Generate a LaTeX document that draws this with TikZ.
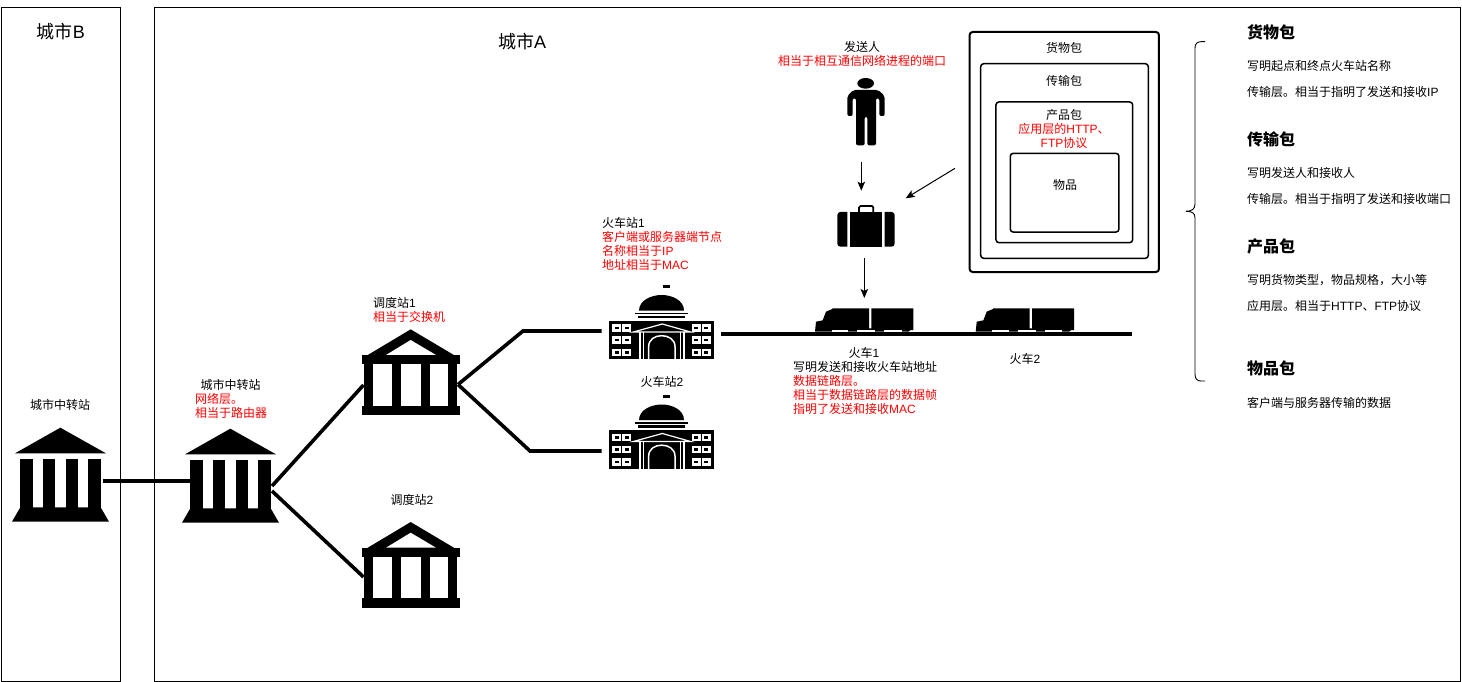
\documentclass[tikz,border=0pt]{standalone}
\usepackage{fontspec}
\setmainfont{Noto Sans CJK SC}
\newfontfamily\latfont{Liberation Sans}
\newcommand{\lat}[1]{{\latfont #1}}
\usetikzlibrary{arrows.meta}
\definecolor{redtxt}{RGB}{255,0,0}
\tikzset{
  txt/.style={inner sep=0pt,font=\fontsize{12}{14}\selectfont,text=black},
  lt/.style={txt,anchor=west,align=left},
  ct/.style={txt,anchor=center,align=center},
  title/.style={inner sep=0pt,font=\fontsize{18}{20}\selectfont,anchor=center},
  head/.style={inner sep=0pt,font=\fontsize{16}{18}\selectfont\bfseries,anchor=west},
  citybox/.style={draw=black,line width=1pt},
  pack/.style={draw=black,rounded corners=3pt},
  link/.style={line width=3.6pt,draw=black},
  arrowline/.style={draw=black,line width=1pt,-{Stealth[length=9pt,width=7.5pt,inset=2pt]}},
  zoomc/.style={x=0.33333pt,y=-0.33333pt},
  bank/.pic={\begin{scope}[zoomc]
    \fill (181,173)--(318,250)--(45,250)--cycle;
    \fill (61,268) rectangle (98,420);
    \fill (129,268) rectangle (166,420);
    \fill (197,268) rectangle (234,420);
    \fill (265,268) rectangle (302,420);
    \fill (61,412)--(302,412)--(327,455)--(36,455)--cycle;
  \end{scope}},
  temple/.pic={\begin{scope}[zoomc]
    \fill (212,118)--(345,197)--(80,197)--cycle;
    \fill[white] (212,150)--(288,195)--(138,195)--cycle;
    \fill (65,195) rectangle (360,222);
    \fill (73,222) rectangle (352,347);
    \fill[white] (100,222) rectangle (157,347);
    \fill[white] (184,222) rectangle (242,347);
    \fill[white] (269,222) rectangle (325,347);
    \fill (65,347) rectangle (360,375);
  \end{scope}},
  station/.pic={\begin{scope}[zoomc]
    \fill (250,255) rectangle (270,265);
    \fill (177,332) .. controls (177,300) and (215,285) .. (245,285) .. controls (275,285) and (312,300) .. (312,332) -- cycle;
    \fill (165,338) rectangle (325,343);
    \fill (175,347) rectangle (315,355);
    \fill (88,362) rectangle (402,478);
    \foreach \wx in {97,127,335,365}{\foreach \wy in {373,409,446}{
      \fill[white] (\wx,\wy) rectangle ++(27,22);
      \fill[black] (\wx+8,\wy+7) rectangle ++(11,8);}}
    \draw[white,line width=1.2pt] (160,396)--(247,372)--(332,396)--cycle;
    \foreach \cx in {180,191,301,312}{\draw[white,line width=1.1pt] (\cx,397)--(\cx,478);}
    \draw[white,line width=1.5pt] (206,478)--(206,440) .. controls (206,418) and (225,407) .. (245,407) .. controls (265,407) and (285,418) .. (285,440) -- (285,478);
  \end{scope}},
  truck/.pic={\begin{scope}[zoomc]
    \fill (45,110)--(48,80)--(68,76)--(78,50)--(97,42)--(97,40)--(207,40)--(207,100)--(214,100)--(214,40)--(340,40)--(340,105)--(332,105)--(325,110)--cycle;
    \fill[white] (95,104) rectangle (145,110);
    \fill[white] (172,104) rectangle (226,110);
    \fill[white] (253,104) rectangle (305,110);
  \end{scope}},
  person/.pic={\begin{scope}[zoomc]
    \fill (317,190) ellipse [x radius=25,y radius=16];
    \fill[rounded corners=2pt] (280,210)--(355,210)--(374,228)--(374,288)--(358,288)--(358,235)--(348,235)--(348,376)--(322,376)--(322,290)--(314,290)--(314,376)--(288,376)--(288,235)--(278,235)--(278,288)--(262,288)--(262,228)--cycle;
  \end{scope}},
  suitcase/.pic={\begin{scope}[zoomc]
    \fill (262,576) [rounded corners=3pt] -- (232,576) -- (232,680) [sharp corners] -- (262,680) -- cycle;
    \fill (270,576) rectangle (366,680);
    \fill (374,576) [rounded corners=3pt] -- (404,576) -- (404,680) [sharp corners] -- (374,680) -- cycle;
    \draw[line width=1.7pt,rounded corners=1.5pt] (297,578)--(297,558)--(340,558)--(340,578);
  \end{scope}},
}
\newcommand{\rd}[1]{{\color{redtxt}#1}}
\begin{document}
\begin{tikzpicture}[x=1pt,y=-1pt]
\useasboundingbox (0,0) rectangle (1462,682);
\fill[white] (0,0) rectangle (1462,682);
% city frames
\node[citybox,minimum width=119.5pt,minimum height=673.5pt,inner sep=0pt] (cityB) at (60.75,344.75) {};
\node[citybox,minimum width=1306pt,minimum height=673.5pt,inner sep=0pt] (cityA) at (807.5,344.75) {};
\node[title] (tB) at (61,32) {城市\lat{B}};
\node[title] (tA) at (522,42) {城市\lat{A}};
% packages
\node[pack,line width=2pt,minimum width=189.3pt,minimum height=240pt,inner sep=0pt] (p1) at (1064.3,152) {};
\node[pack,line width=1.5pt,minimum width=167.6pt,minimum height=194.6pt,inner sep=0pt] (p2) at (1064.5,161) {};
\node[pack,line width=1.5pt,minimum width=136.7pt,minimum height=140.7pt,inner sep=0pt] (p3) at (1064.3,172.3) {};
\node[pack,line width=1.5pt,minimum width=108.7pt,minimum height=78.7pt,inner sep=0pt] (p4) at (1064.6,192.7) {};
\node[ct] (p1t) at (1064,48) {货物包};
\node[ct] (p2t) at (1064,81) {传输包};
\node[ct] (p3t) at (1064,129) {产品包\\\rd{应用层的\lat{HTTP}、}\\\rd{\lat{FTP}协议}};
\node[ct] (p4t) at (1065,185) {物品};
% icons
\pic at (0,370) {bank};
\pic at (170,371) {bank};
\pic at (340,290) {temple};
\pic at (340,482.7) {temple};
\pic at (580,200) {station};
\pic at (580,309.5) {station};
\pic at (800,295) {truck};
\pic at (960.7,295) {truck};
\pic at (760,20) {person};
\pic at (760,20) {suitcase};
% anchors of connectors
\coordinate (bankB) at (103,481.3);
\coordinate (bankA) at (190,481.3);
\coordinate (bankAu) at (272,486);
\coordinate (bankAd) at (272,491);
\coordinate (disp1w) at (363.5,385);
\coordinate (disp2w) at (363.5,577);
\coordinate (disp1e) at (458,384.5);
\coordinate (bendU) at (523,331);
\coordinate (bendD) at (530,451);
\coordinate (st1) at (601.7,331);
\coordinate (st2) at (601.7,451);
\coordinate (railS) at (721.3,334.3);
\coordinate (railE) at (1132,334.3);
\coordinate (personB) at (861.3,161.7);
\coordinate (caseT) at (861.3,190.7);
\coordinate (packL) at (955,168.3);
\coordinate (caseR) at (905.7,198.3);
\coordinate (caseB) at (864.3,258.3);
\coordinate (truckT) at (864.3,298);
\draw[link,line width=4pt] (bankB)--(bankA);
\draw[link] (bankAu)--(disp1w);
\draw[link] (bankAd)--(disp2w);
\draw[link] (disp1e)--(bendU)--(st1);
\draw[link] (disp1e)--(bendD)--(st2);
\draw[link,line width=4pt] (railS)--(railE);
\draw[arrowline] (personB)--(caseT);
\draw[arrowline] (packL)--(caseR);
\draw[arrowline] (caseB)--(truckT);
% labels
\node[ct] (l1) at (60,405) {城市中转站};
\node[lt] (l2) at (195,398.5) {\hspace*{5.5pt}城市中转站\\\rd{网络层。}\\\rd{相当于路由器}};
\node[lt] (l3) at (373,310) {调度站\lat{1}\\\rd{相当于交换机}};
\node[ct] (l4) at (412,500) {调度站\lat{2}};
\node[lt] (l5) at (602,243.5) {火车站\lat{1}\\\rd{客户端或服务器端节点}\\\rd{名称相当于\lat{IP}}\\\rd{地址相当于\lat{MAC}}};
\node[ct] (l6) at (662,382) {火车站\lat{2}};
\node[ct] (l7) at (862,54) {发送人\\\rd{相当于相互通信网络进程的端口}};
\node[ct] (l8) at (864,353) {火车\lat{1}};
\node[lt] (l9) at (793,388) {写明发送和接收火车站地址\\\rd{数据链路层。}\\\rd{相当于数据链路层的数据帧}\\\rd{指明了发送和接收\lat{MAC}}};
\node[ct] (l10) at (1025,359) {火车\lat{2}};
% brace
\coordinate (brT) at (1205,41.7);
\coordinate (brM) at (1186,211.3);
\coordinate (brB) at (1205,381);
\draw[black,line width=.9pt] (brT) -- (1201,41.7) .. controls (1197,41.7) and (1195,44) .. (1195,48) -- (1195,204) .. controls (1195,209) and (1192,211.3) .. (brM);
\draw[black,line width=.9pt] (brB) -- (1201,381) .. controls (1197,381) and (1195,378.7) .. (1195,374) -- (1195,218) .. controls (1195,213) and (1192,211.3) .. (brM);
% legend
\node[head] (h1) at (1247,32.5) {货物包};
\node[lt] (a1) at (1247,66) {写明起点和终点火车站名称};
\node[lt] (a2) at (1247,92) {传输层。相当于指明了发送和接收\lat{IP}};
\node[head] (h2) at (1247,139) {传输包};
\node[lt] (a3) at (1247,173) {写明发送人和接收人};
\node[lt] (a4) at (1247,199) {传输层。相当于指明了发送和接收端口};
\node[head] (h3) at (1247,246.5) {产品包};
\node[lt] (a5) at (1247,280) {写明货物类型，物品规格，大小等};
\node[lt] (a6) at (1247,306) {应用层。相当于\lat{HTTP}、\lat{FTP}协议};
\node[head] (h4) at (1247,368) {物品包};
\node[lt] (a7) at (1247,403) {客户端与服务器传输的数据};
\end{tikzpicture}
\end{document}
